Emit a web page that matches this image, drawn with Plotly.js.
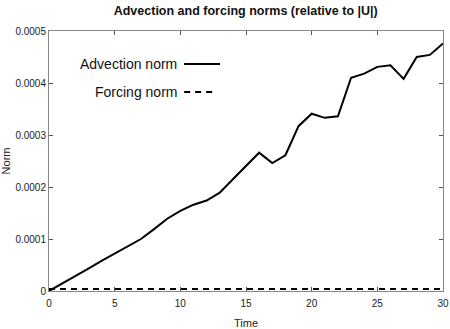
<!DOCTYPE html>
<html>
<head>
<meta charset="utf-8">
<script src="https://cdn.plot.ly/plotly-3.0.1.min.js"></script>
<style>
  html, body { margin: 0; padding: 0; background: #fff; }
  #plot { width: 450px; height: 329px; }
</style>
</head>
<body>
<div id="plot"></div>
<script>
// --- Data ---
const time = [0, 1, 2, 3, 4, 5, 6, 7, 8, 9, 10, 11, 12, 13, 14, 15,
              16, 17, 18, 19, 20, 21, 22, 23, 24, 25, 26, 27, 28, 29, 30];
const advectionNorm = [0, 1.4e-5, 2.8e-5, 4.3e-5, 5.8e-5, 7.2e-5, 8.6e-5, 1.0e-4,
                       1.19e-4, 1.39e-4, 1.54e-4, 1.66e-4, 1.74e-4, 1.89e-4, 2.15e-4,
                       2.41e-4, 2.66e-4, 2.46e-4, 2.61e-4, 3.17e-4, 3.41e-4, 3.33e-4,
                       3.36e-4, 4.1e-4, 4.18e-4, 4.31e-4, 4.34e-4, 4.08e-4, 4.5e-4,
                       4.54e-4, 4.76e-4];
const forcingNorm = time.map(() => 4e-6);

const yTicks = [0, 0.0001, 0.0002, 0.0003, 0.0004, 0.0005];
const yTickText = ["0", "0.0001", "0.0002", "0.0003", "0.0004", "0.0005"];
const xTicks = [0, 5, 10, 15, 20, 25, 30];

const font = "Liberation Sans, Arial, sans-serif";

const traces = [
  {
    x: time, y: advectionNorm, mode: "lines", name: "Advection norm",
    line: { color: "#000", width: 2 }
  },
  {
    x: time, y: forcingNorm, mode: "lines", name: "Forcing norm",
    line: { color: "#000", width: 2, dash: "6px,5px" }
  }
];

const axisCommon = {
  showline: true, linecolor: "#888", linewidth: 1, mirror: "ticks",
  ticks: "inside", ticklen: 4, tickcolor: "#555", tickwidth: 1,
  showgrid: false, zeroline: false,
  tickfont: { family: font, size: 10, color: "#222" }
};

const layout = {
  width: 450, height: 329,
  margin: { l: 49, r: 7, t: 31, b: 38 },
  paper_bgcolor: "#fff", plot_bgcolor: "#fff",
  showlegend: false,
  font: { family: font, color: "#222" },
  title: {
    text: "<b>Advection and forcing norms (relative to |U|)</b>",
    font: { family: font, size: 12.5, color: "#111" },
    x: 0.546, xanchor: "center", y: 0.969, yanchor: "middle"
  },
  xaxis: Object.assign({}, axisCommon, {
    range: [0, 30], tickmode: "array", tickvals: xTicks, ticklabelstandoff: 3,
    title: { text: "Time", font: { family: font, size: 11, color: "#222" }, standoff: 11 }
  }),
  yaxis: Object.assign({}, axisCommon, {
    range: [0, 0.0005], tickmode: "array", tickvals: yTicks, ticktext: yTickText,
    title: { text: "Norm", font: { family: font, size: 11, color: "#222" }, standoff: 6 }
  }),
  // gnuplot-style key: text on the left, line sample on the right
  annotations: [
    { xref: "paper", yref: "paper", x: 0.329, y: 0.875, xanchor: "right", yanchor: "middle",
      text: "Advection norm", showarrow: false, font: { family: font, size: 14, color: "#111" } },
    { xref: "paper", yref: "paper", x: 0.329, y: 0.767, xanchor: "right", yanchor: "middle",
      text: "Forcing norm", showarrow: false, font: { family: font, size: 14, color: "#111" } }
  ],
  shapes: [
    { type: "line", xref: "paper", yref: "paper", x0: 0.343, x1: 0.434, y0: 0.873, y1: 0.873,
      line: { color: "#000", width: 2 } },
    { type: "line", xref: "paper", yref: "paper", x0: 0.343, x1: 0.424, y0: 0.765, y1: 0.765,
      line: { color: "#000", width: 2, dash: "6px,5px" } }
  ]
};

Plotly.newPlot("plot", traces, layout, { displayModeBar: false, staticPlot: true });
</script>
</body>
</html>
